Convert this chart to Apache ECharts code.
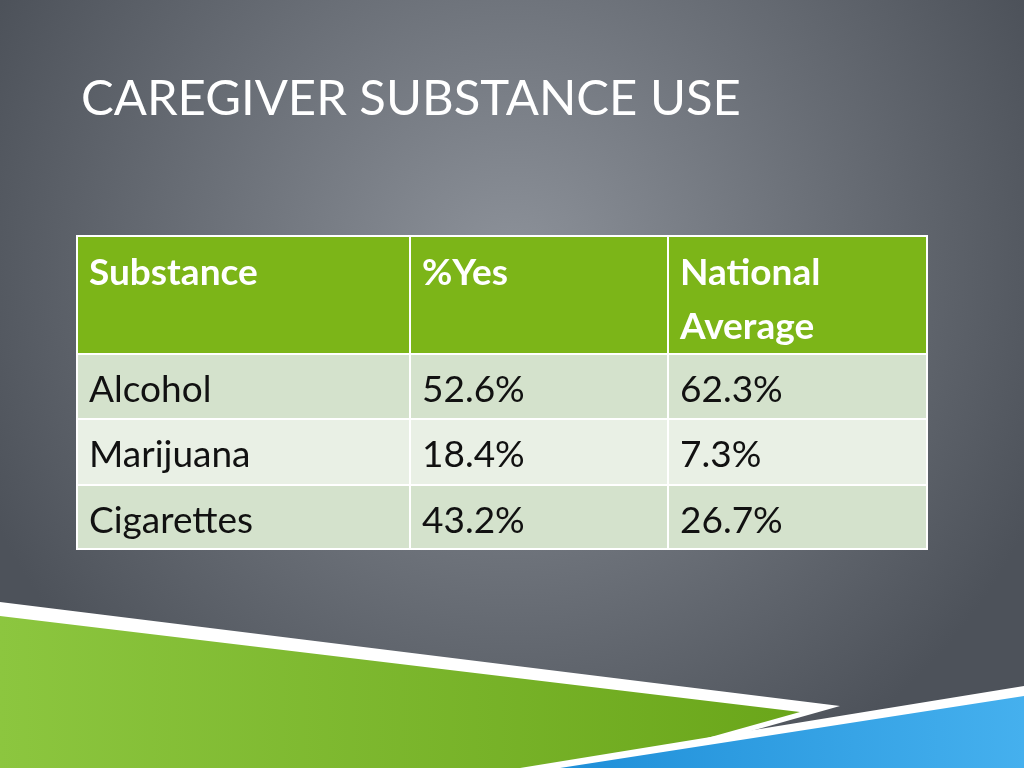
<!DOCTYPE html><html><head><meta charset="utf-8"><script src="https://cdn.jsdelivr.net/npm/echarts@6/dist/echarts.min.js"></script>
<style>html,body{margin:0;padding:0}#c{width:1024px;height:768px}</style></head><body><div id="c"></div><script>
const title = "CAREGIVER SUBSTANCE USE";
const headers = ["Substance", "%Yes", "National\nAverage"];
const substances = ["Alcohol", "Marijuana", "Cigarettes"];
const pctYes = ["52.6%", "18.4%", "43.2%"];
const nationalAvg = ["62.3%", "7.3%", "26.7%"];
const colEdges = [0, 333, 591, 850];
const rowEdges = [0, 118, 183, 249, 313];
const rows = [headers].concat(substances.map((s, i) => [s, pctYes[i], nationalAvg[i]]));
const data = [];
rows.forEach((r, ri) => r.forEach((t, ci) => data.push([ci, ri, t])));
const rowFill = ["#7cb518", "#d4e2cc", "#e9f0e5", "#d4e2cc"];
const chart = echarts.init(document.getElementById('c'));
chart.setOption({
  animation: false,
  backgroundColor: {type: 'radial', x: 0.5, y: 0.35, r: 0.75, colorStops: [{offset: 0, color: '#8d929a'}, {offset: 1, color: '#4d525a'}]},
  title: {text: title, left: 76, top: 70, textStyle: {color: '#ffffff', fontSize: 49, fontWeight: 'normal', fontFamily: 'Lato'}},
  grid: {left: 77, top: 236, width: 850, height: 313},
  xAxis: {type: 'value', min: 0, max: 850, show: false},
  yAxis: {type: 'value', min: 0, max: 313, inverse: true, show: false},
  graphic: [
    {type: 'polygon', shape: {points: [[0,602],[840,706],[620,768],[0,768]]}, style: {fill: '#ffffff'}},
    {type: 'polygon', shape: {points: [[0,616],[800,712],[600,768],[0,768]], }, style: {fill: {type:'linear',x:0,y:0,x2:1,y2:0,colorStops:[{offset:0,color:'#8cc63f'},{offset:1,color:'#6aa61a'}]}}},
    {type: 'polygon', shape: {points: [[1024,686],[520,768],[1024,768]]}, style: {fill: '#ffffff'}},
    {type: 'polygon', shape: {points: [[1024,696],[560,768],[1024,768]]}, style: {fill: {type:'linear',x:0,y:0,x2:1,y2:0,colorStops:[{offset:0,color:'#1f8fd8'},{offset:1,color:'#45b0ee'}]}}}
  ],
  series: [{
    type: 'custom', data: data, encode: {x: 0, y: 1},
    renderItem: function (params, api) {
      const c = api.value(0), r = api.value(1), t = api.value(2);
      const p0 = api.coord([colEdges[c], rowEdges[r]]);
      const p1 = api.coord([colEdges[c + 1], rowEdges[r + 1]]);
      return {type: 'group', children: [
        {type: 'rect', shape: {x: p0[0], y: p0[1], width: p1[0] - p0[0], height: p1[1] - p0[1]},
         style: {fill: rowFill[r], stroke: '#ffffff', lineWidth: 2}},
        {type: 'text', x: p0[0] + 12, y: p0[1] + (r === 0 ? 10 : 9),
         style: {text: t, fill: r === 0 ? '#ffffff' : '#111111', fontSize: 37, lineHeight: 54,
                 fontWeight: r === 0 ? 'bold' : 'normal', fontFamily: 'Lato'}}
      ]};
    }
  }]
});
</script></body></html>
